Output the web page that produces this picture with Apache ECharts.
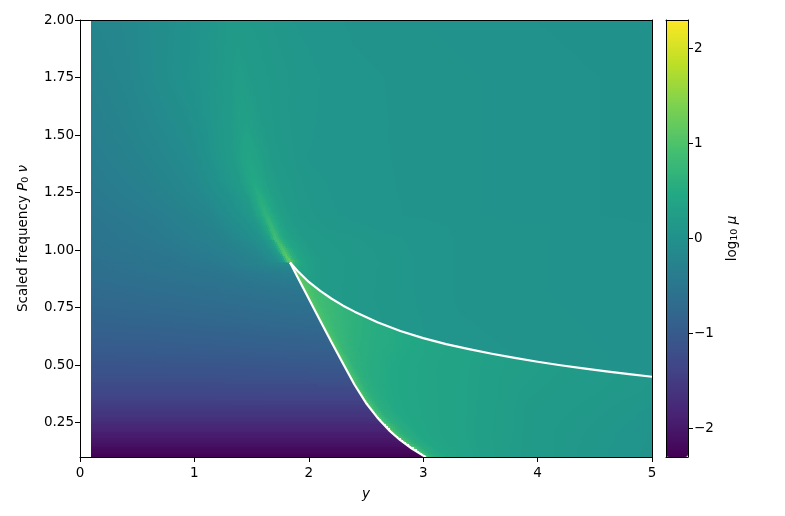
<!DOCTYPE html>
<html><head><meta charset="utf-8">
<style>html,body{margin:0;padding:0;background:#fff}#c{width:785px;height:516px}</style>
<script src="https://cdn.jsdelivr.net/npm/echarts@6/dist/echarts.min.js"></script>
</head><body><div id="c"></div>
<script>
const viridis = ['#440154','#482475','#414487','#355f8d','#2a788e','#21918c','#22a884','#44bf70','#7ad151','#bddf26','#fde725'];
const yTicks = [0.25,0.5,0.75,1,1.25,1.5,1.75,2];
const cbTicks = [-2,-1,0,1,2];

// Field above the cusp and above the upper curve. Rows follow the bright ridge:
// each row has a ridge position, and columns sit at offsets from that ridge.
const fieldNu    = [0.45,0.8,0.95,1,1.05,1.1,1.15,1.2,1.3,1.4,1.55,1.75,2];
const fieldRidge = [1.83,1.83,1.83,1.77,1.71,1.67,1.63,1.59,1.52,1.48,1.44,1.4,1.36];
const fieldOffset = [-1,-0.5,-0.25,-0.12,-0.05,0,0.05,0.12,0.25,0.5,1];
// log10 mu: first column at y=0.1, then the offsets, then y=3.3 and y=5
const fieldMu = [
[-1.1,-1.1,-1.1,-1.1,-1.1,-1.1,.3,.3,.3,.25,.18,.12,.07,.03],
[-.7,-.6,-.5,-.4,-.3,-.2,.35,.3,.28,.22,.15,.1,.05,.02],
[-.6,-.5,-.38,-.25,-.1,.15,1.3,.65,.36,.22,.16,.1,.05,.02],
[-.56,-.46,-.32,-.18,-.02,.25,1.05,.6,.35,.22,.16,.1,.05,.02],
[-.53,-.43,-.28,-.1,.05,.32,.9,.55,.33,.21,.15,.1,.05,.02],
[-.51,-.41,-.24,-.05,.1,.38,.78,.52,.3,.19,.12,.08,.05,.02],
[-.49,-.39,-.21,0,.15,.45,.68,.5,.28,.17,.1,.06,.04,.01],
[-.46,-.35,-.17,.02,.17,.42,.6,.47,.29,.18,.1,.06,.04,.01],
[-.42,-.31,-.13,.08,.22,.38,.47,.4,.28,.18,.1,.06,.04,.01],
[-.38,-.27,-.1,.12,.24,.35,.4,.36,.27,.17,.09,.06,.04,.01],
[-.33,-.23,-.06,.12,.21,.28,.31,.28,.23,.16,.1,.06,.04,.01],
[-.27,-.2,0,.1,.18,.23,.25,.23,.2,.16,.11,.06,.04,.01],
[-.22,-.18,-.03,.08,.14,.18,.19,.18,.16,.14,.09,.05,.03,0]
];

// Shadow zone, left of and below the lower curve
const shadowNu = [0.1,0.125,0.15,0.2,0.25,0.3,0.35,0.4,0.45,0.5,0.55,0.6,0.7,0.8,0.9,0.95,1];
const shadowY = [0.1,0.6,1.2,1.8,2.4,3.1];
const shadowMu = [
[-2.3,-2.3,-2.3,-2.3,-2.3,-2.3],
[-2.2,-2.2,-2.2,-2.2,-2.2,-2.2],
[-2.1,-2.1,-2.1,-2.1,-2.1,-2.1],
[-1.92,-1.92,-1.92,-1.92,-1.92,-1.92],
[-1.72,-1.72,-1.72,-1.72,-1.72,-1.72],
[-1.55,-1.55,-1.55,-1.55,-1.55,-1.55],
[-1.4,-1.4,-1.4,-1.39,-1.39,-1.39],
[-1.28,-1.28,-1.27,-1.26,-1.25,-1.25],
[-1.18,-1.18,-1.17,-1.15,-1.13,-1.13],
[-1.1,-1.09,-1.08,-1.05,-1.02,-1.02],
[-1.01,-1,-.98,-.95,-.92,-.92],
[-.94,-.93,-.9,-.86,-.82,-.82],
[-.82,-.79,-.75,-.7,-.65,-.65],
[-.72,-.68,-.62,-.55,-.5,-.5],
[-.63,-.57,-.5,-.35,-.3,-.3],
[-.6,-.52,-.42,-.05,-.05,-.05],
[-.57,-.47,-.33,0,0,0]
];

// Field between the curves; columns sit at offsets from the lower curve
const wedgeNu = [0.1,0.2,0.3,0.4,0.5,0.6,0.7,0.8,0.9,0.95];
const wedgeLowerY = [3.024,2.746,2.557,2.413,2.306,2.2,2.09,1.982,1.882,1.83];
const wedgeOffset = [0,0.03,0.08,0.2,0.4,0.8,1.4];
// last column at y=5
const wedgeMu = [
[1.1,.75,.55,.42,.33,.22,.11,.04],
[1.1,.78,.58,.46,.38,.28,.16,.05],
[1.15,.8,.6,.47,.42,.33,.2,.08],
[1.2,.84,.62,.5,.44,.36,.24,.12],
[1.2,.86,.66,.55,.47,.38,.27,.14],
[1.2,.9,.74,.62,.53,.42,.3,.15],
[1.2,.95,.82,.7,.58,.42,.3,.15],
[1.25,1,.88,.78,.63,.45,.3,.15],
[1.35,1.1,.95,.82,.65,.45,.3,.15],
[1.5,1.2,1,.85,.65,.45,.3,.15]
];

// Caustic curves
const upperY = [1.836,1.9,2,2.1,2.2,2.3,2.4,2.6,2.8,3,3.2,3.4,3.6,3.8,4,4.2,4.4,4.6,4.8,5];
const upperNu = [0.946,0.91,0.861,0.822,0.788,0.758,0.732,0.686,0.648,0.617,0.591,0.569,0.549,0.531,0.514,0.499,0.485,0.472,0.46,0.449];
const lowerY = [1.836,1.9,2,2.1,2.2,2.3,2.4,2.5,2.6,2.7,2.8,2.9,3,3.024];
const lowerNu = [0.946,0.884,0.788,0.692,0.598,0.505,0.414,0.335,0.271,0.217,0.173,0.137,0.106,0.1];

const pairs=(a,b)=>a.map((v,i)=>[v,b[i]]);
const upper=pairs(upperY,upperNu), lower=pairs(lowerY,lowerNu);
const wedgeOutline=[...lower,[5,0.1],...upper.slice().reverse()];
const shadowOutline=[[0.05,0.1],...lower.slice().reverse(),[0.05,lowerNu[0]]];

const lut=[];
for(let i=0;i<256;i++) lut.push(echarts.color.lerp(i/255,viridis));
const idx=v=>Math.max(0,Math.min(255,Math.round((v+2.3)/4.6*255)));
const lerp=(a,b,t)=>a+(b-a)*t;

// shaded mesh: rowX[j][i] and rowV[j][i] are the read nodes of row j
function mesh(api,rowNu,rowX,rowV){
  const out=[];
  for(let j=0;j<rowNu.length-1;j++){
    const yA=api.coord([1,rowNu[j]])[1], yB=api.coord([1,rowNu[j+1]])[1];
    const n=Math.max(1,Math.ceil(Math.abs(yA-yB)/2));
    for(let m=0;m<n;m++){
      const t=(m+.5)/n;
      const bot=Math.round(lerp(yA,yB,m/n)), top=Math.round(lerp(yA,yB,(m+1)/n));
      if(bot<=top) continue;
      const X=rowX[j].map((x,i)=>api.coord([lerp(x,rowX[j+1][i],t),rowNu[j]])[0]);
      const V=rowV[j].map((v,i)=>lerp(v,rowV[j+1][i],t));
      let start=null,cur=-1,end=null;
      for(let i=0;i<X.length-1;i++){
        const k=Math.max(1,Math.ceil((X[i+1]-X[i])/2.5));
        for(let q=0;q<k;q++){
          const x0=Math.round(lerp(X[i],X[i+1],q/k)),x1=Math.round(lerp(X[i],X[i+1],(q+1)/k));
          if(x1<=x0) continue;
          const c=idx(lerp(V[i],V[i+1],(q+.5)/k));
          if(c!==cur){
            if(cur>=0) out.push({type:'rect',shape:{x:start,y:top,width:end-start,height:bot-top},style:{fill:lut[cur]}});
            cur=c;start=x0;
          }
          end=x1;
        }
      }
      if(cur>=0) out.push({type:'rect',shape:{x:start,y:top,width:end-start,height:bot-top},style:{fill:lut[cur]}});
    }
  }
  return out;
}
const fieldX=fieldNu.map((_,j)=>[0.1,...fieldOffset.map(o=>fieldRidge[j]+o),3.3,5]);
const shadowX=shadowNu.map(()=>shadowY);
const wedgeX=wedgeNu.map((_,j)=>[...wedgeOffset.map(o=>wedgeLowerY[j]+o),5]);

const chart=echarts.init(document.getElementById('c'),null,{renderer:'canvas'});
const txt={fontFamily:'DejaVu Sans',fontSize:13.5,color:'#000'};
const rich={i:{...txt,fontStyle:'italic'},s:{...txt,fontSize:9.5,padding:[6,0,0,0]}};
const line={show:true,onZero:false,lineStyle:{color:'#000',width:1}};
const tick={show:true,length:5,lineStyle:{color:'#000',width:1}};
const bare={axisTick:{show:false},axisLabel:{show:false},splitLine:{show:false},axisLine:line,z:10,type:'value'};
chart.setOption({
  animation:false,
  backgroundColor:'#fff',
  textStyle:{fontFamily:'DejaVu Sans'},
  grid:[{left:80,top:20,width:572,height:437},{left:666,top:20,width:22,height:437}],
  xAxis:[
    {gridIndex:0,type:'value',min:0,max:5,interval:1,z:10,position:'bottom',axisLine:line,axisTick:tick,splitLine:{show:false},
     axisLabel:{...txt,margin:9},name:'y',nameLocation:'middle',nameGap:30,nameTextStyle:{...txt,fontStyle:'italic'}},
    {...bare,gridIndex:0,min:0,max:5,position:'top'},
    {...bare,gridIndex:1,min:0,max:1,position:'bottom'},
    {...bare,gridIndex:1,min:0,max:1,position:'top'}
  ],
  yAxis:[
    {gridIndex:0,type:'value',min:0.1,max:2,z:10,position:'left',axisLine:line,
     axisTick:{...tick,customValues:yTicks},splitLine:{show:false},
     axisLabel:{...txt,margin:6,padding:[2,0,0,0],customValues:yTicks,formatter:v=>v.toFixed(2)},
     name:'Scaled frequency {i|P}{s|0} {i|ν}',nameLocation:'middle',nameRotate:90,nameGap:49,
     nameTextStyle:{...txt,rich}},
    {...bare,gridIndex:0,min:0.1,max:2,position:'right'},
    {gridIndex:1,type:'value',min:-2.3,max:2.3,z:10,position:'right',axisLine:line,
     axisTick:{...tick,customValues:cbTicks},splitLine:{show:false},
     axisLabel:{...txt,margin:6,padding:[2,0,0,0],customValues:cbTicks,formatter:v=>v<0?'\u2212'+(-v):''+v},
     name:'log{s|10} {i|μ}',nameLocation:'middle',nameRotate:90,nameGap:36,
     nameTextStyle:{...txt,rich}},
    {...bare,gridIndex:1,min:-2.3,max:2.3,position:'left'}
  ],
  visualMap:{type:'continuous',min:-2.3,max:2.3,dimension:1,seriesIndex:[0],left:666,top:20,padding:0,itemWidth:22,itemHeight:437,
    calculable:false,hoverLink:false,realtime:false,text:null,showLabel:false,inRange:{color:viridis},textStyle:{color:'transparent',fontSize:1}},
  series:[
    {type:'custom',xAxisIndex:0,yAxisIndex:0,silent:true,data:[[1,1]],
     renderItem:(p,api)=>({type:'group',children:mesh(api,fieldNu,fieldX,fieldMu)})},
    {type:'custom',xAxisIndex:0,yAxisIndex:0,silent:true,data:[[1,1]],
     renderItem:(p,api)=>({type:'group',children:mesh(api,shadowNu,shadowX,shadowMu),
       clipPath:{type:'polygon',shape:{points:shadowOutline.map(q=>api.coord(q))}}})},
    {type:'custom',xAxisIndex:0,yAxisIndex:0,silent:true,data:[[1,1]],
     renderItem:(p,api)=>({type:'group',children:mesh(api,wedgeNu,wedgeX,wedgeMu),
       clipPath:{type:'polygon',shape:{points:wedgeOutline.map(q=>api.coord(q))}}})},
    {type:'line',xAxisIndex:0,yAxisIndex:0,silent:true,symbol:'none',smooth:false,data:upper,lineStyle:{color:'#fff',width:2.2,join:'round'}},
    {type:'line',xAxisIndex:0,yAxisIndex:0,silent:true,symbol:'none',smooth:false,data:lower,lineStyle:{color:'#fff',width:2.2,join:'round'}}
  ]
});
</script></body></html>
